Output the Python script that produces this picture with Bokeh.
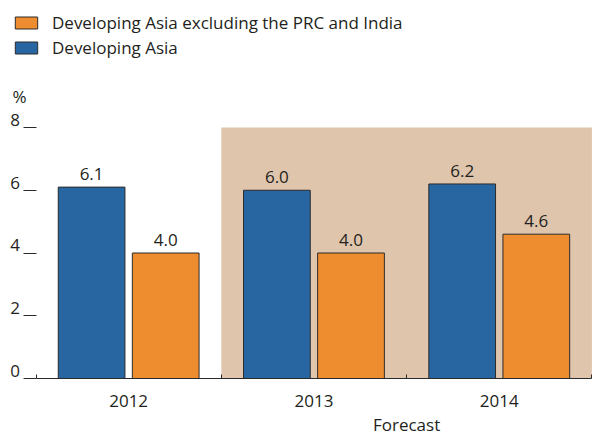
from bokeh.plotting import figure
from bokeh.models import (ColumnDataSource, Range1d, FixedTicker, BoxAnnotation,
                          Legend, LegendItem, Label)
from bokeh.transform import dodge
from bokeh.core.properties import value
from bokeh.embed import file_html
from bokeh.resources import INLINE

years = ["2012", "2013", "2014"]
developing_asia = [6.1, 6.0, 6.2]
excl_prc_india = [4.0, 4.0, 4.6]
y_ticks = [0, 2, 4, 6, 8]
forecast_start = "2013"
series_names = ["Developing Asia excluding the PRC and India", "Developing Asia"]

BLUE = "#2866a2"
ORANGE = "#ee8d2f"
SHADE = "#dfc5ac"
TEXT = "#231f20"
LINE = "#2b2b2b"
FONT = "Open Sans"
FS = "17px"

W, H = 594, 436
X0_PX, CAT_PX = 35.5, 185.3      # left edge of first category, px per category
Y0_PX, UNIT_PX = 378.0, 31.375   # baseline (value 0) from top, px per unit

pos = [i + 0.5 for i in range(len(years))]
src = ColumnDataSource(dict(
    x=pos,
    asia=developing_asia,
    excl=excl_prc_india,
    asia_lbl=[f"{v:.1f}" for v in developing_asia],
    excl_lbl=[f"{v:.1f}" for v in excl_prc_india],
))

x_rng = Range1d(-X0_PX / CAT_PX, (W - X0_PX) / CAT_PX)
y_rng = Range1d(-(H - Y0_PX) / UNIT_PX, Y0_PX / UNIT_PX)

p = figure(width=W, height=H, output_backend="svg", toolbar_location=None,
           x_range=x_rng, y_range=y_rng,
           min_border_left=0, min_border_right=0, min_border_top=0,
           min_border_bottom=0)
p.outline_line_color = None
p.grid.visible = False

fidx = years.index(forecast_start)
p.add_layout(BoxAnnotation(left=fidx, right=len(years), bottom=0, top=max(y_ticks),
                           fill_color=SHADE, fill_alpha=1, line_color=None,
                           level="underlay"))

bw = 0.36
r_blue = p.vbar(x=dodge("x", -0.2), top="asia", width=bw, source=src, fill_color=BLUE,
                line_color=LINE, line_width=1)
r_orange = p.vbar(x=dodge("x", 0.2), top="excl", width=bw, source=src,
                  fill_color=ORANGE, line_color=LINE, line_width=1)

for xs, col in ((-0.2, "asia"), (0.2, "excl")):
    p.text(x=dodge("x", xs), y=col, text=col + "_lbl", source=src, y_offset=-7,
           text_align="center", text_baseline="bottom", text_font=value(FONT),
           text_font_size=FS, text_color=TEXT)

xa = p.xaxis[0]
xa.fixed_location = 0
xa.bounds = (0, len(years))
xa.ticker = FixedTicker(ticks=pos, minor_ticks=list(range(len(years) + 1)))
xa.major_label_overrides = {pv: y for pv, y in zip(pos, years)}
xa.major_tick_in = 0
xa.major_tick_out = 0
xa.minor_tick_in = 4
xa.minor_tick_out = 0
xa.minor_tick_line_color = LINE
xa.axis_line_color = LINE
xa.major_label_standoff = 16
xa.major_label_text_font = FONT
xa.major_label_text_font_size = FS
xa.major_label_text_color = TEXT

ya = p.yaxis[0]
ya.fixed_location = 0
ya.bounds = (0, max(y_ticks))
ya.ticker = FixedTicker(ticks=y_ticks)
ya.major_label_overrides = {t: f"{t}\n " for t in y_ticks}
ya.major_label_text_line_height = 0.7
ya.axis_line_color = None
ya.major_tick_in = 0
ya.major_tick_out = 13
ya.major_tick_line_color = LINE
ya.minor_tick_line_color = None
ya.major_label_standoff = 3
ya.major_label_text_font = FONT
ya.major_label_text_font_size = FS
ya.major_label_text_color = TEXT

p.add_layout(Label(x=-0.127, y=9.0, text="%", text_align="left",
                   text_baseline="middle", text_font=FONT,
                   text_font_size=FS, text_color=TEXT))
p.add_layout(Label(x=fidx + 1, y=-1.47, text="Forecast", text_align="center",
                   text_baseline="middle", text_font=FONT,
                   text_font_size=FS, text_color=TEXT))

legend = Legend(items=[LegendItem(label=series_names[0], renderers=[r_orange]),
                       LegendItem(label=series_names[1], renderers=[r_blue])],
                location=(12, 377), orientation="vertical",
                padding=0, margin=0, spacing=2, glyph_width=28, glyph_height=15,
                label_height=15, label_standoff=12, border_line_color=None,
                background_fill_alpha=0, label_text_font=FONT,
                label_text_font_size=FS, label_text_color=TEXT)
p.add_layout(legend)

open("out.html", "w").write(file_html(p, INLINE))
